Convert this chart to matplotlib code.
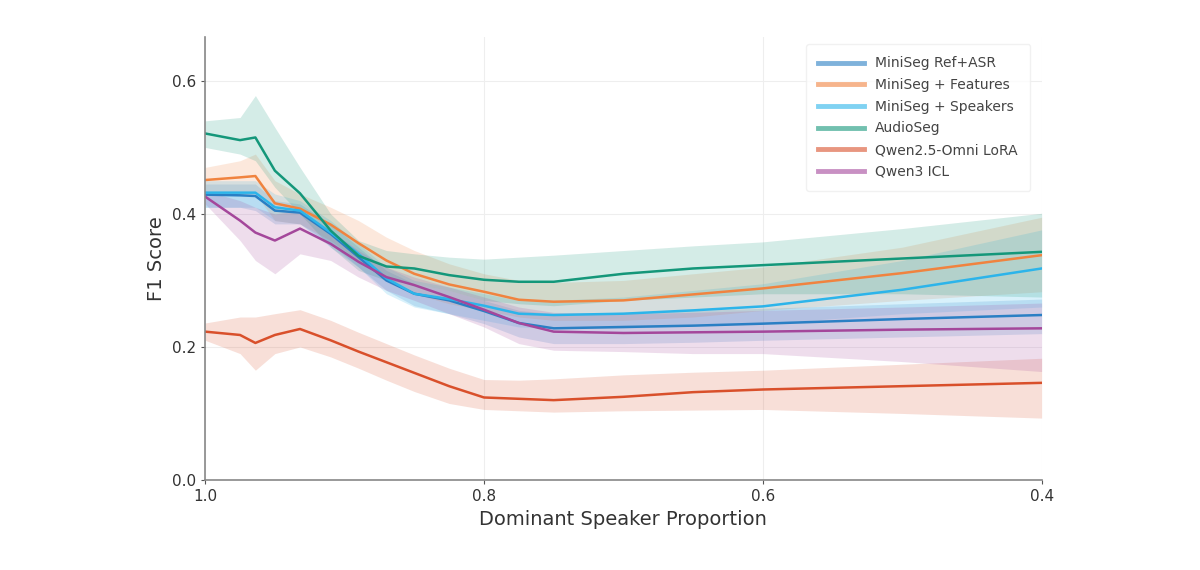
import matplotlib
matplotlib.use("Agg")
import matplotlib.pyplot as plt
import numpy as np

# dominant speaker proportion (x axis, drawn reversed)
x = [1.0, 0.975, 0.964, 0.95, 0.932, 0.91, 0.89, 0.87, 0.85, 0.825,
     0.8, 0.775, 0.75, 0.7, 0.65, 0.6, 0.5, 0.4]

labels = ["MiniSeg Ref+ASR", "MiniSeg + Features", "MiniSeg + Speakers",
          "AudioSeg", "Qwen2.5-Omni LoRA", "Qwen3 ICL"]

ref_asr = [0.429, 0.428, 0.427, 0.405, 0.402, 0.370, 0.335, 0.300, 0.280, 0.270,
           0.254, 0.236, 0.228, 0.230, 0.232, 0.235, 0.242, 0.248]
ref_asr_lo = [0.410, 0.410, 0.405, 0.385, 0.385, 0.355, 0.320, 0.285, 0.262, 0.250,
              0.235, 0.215, 0.205, 0.205, 0.207, 0.210, 0.215, 0.220]
ref_asr_hi = [0.445, 0.445, 0.445, 0.420, 0.415, 0.385, 0.350, 0.315, 0.295, 0.285,
              0.270, 0.255, 0.250, 0.252, 0.255, 0.258, 0.265, 0.272]

features = [0.451, 0.455, 0.457, 0.416, 0.408, 0.384, 0.356, 0.330, 0.310, 0.294,
            0.283, 0.271, 0.268, 0.270, 0.279, 0.288, 0.311, 0.338]
features_lo = [0.430, 0.430, 0.430, 0.390, 0.385, 0.360, 0.330, 0.300, 0.280, 0.265,
               0.255, 0.245, 0.240, 0.240, 0.245, 0.255, 0.270, 0.283]
features_hi = [0.470, 0.480, 0.490, 0.450, 0.430, 0.410, 0.390, 0.365, 0.345, 0.325,
               0.310, 0.300, 0.297, 0.300, 0.310, 0.320, 0.350, 0.395]

speakers = [0.432, 0.432, 0.432, 0.410, 0.405, 0.372, 0.340, 0.303, 0.280, 0.272,
            0.262, 0.250, 0.248, 0.250, 0.255, 0.261, 0.286, 0.318]
speakers_lo = [0.410, 0.410, 0.410, 0.390, 0.385, 0.350, 0.320, 0.280, 0.260, 0.250,
               0.240, 0.230, 0.228, 0.228, 0.232, 0.235, 0.250, 0.260]
speakers_hi = [0.450, 0.450, 0.450, 0.430, 0.420, 0.390, 0.355, 0.320, 0.300, 0.290,
               0.280, 0.270, 0.270, 0.275, 0.285, 0.295, 0.330, 0.376]

audioseg = [0.521, 0.511, 0.515, 0.465, 0.431, 0.375, 0.337, 0.321, 0.318, 0.308,
            0.301, 0.298, 0.298, 0.310, 0.318, 0.323, 0.333, 0.343]
audioseg_lo = [0.500, 0.490, 0.480, 0.440, 0.400, 0.350, 0.315, 0.300, 0.295, 0.285,
               0.270, 0.265, 0.262, 0.270, 0.275, 0.280, 0.280, 0.275]
audioseg_hi = [0.540, 0.545, 0.578, 0.530, 0.470, 0.400, 0.360, 0.345, 0.340, 0.335,
               0.332, 0.335, 0.338, 0.345, 0.352, 0.358, 0.378, 0.401]

omni = [0.223, 0.218, 0.206, 0.218, 0.227, 0.210, 0.193, 0.177, 0.161, 0.141,
        0.124, 0.122, 0.120, 0.125, 0.132, 0.136, 0.141, 0.146]
omni_lo = [0.210, 0.190, 0.165, 0.190, 0.200, 0.185, 0.168, 0.150, 0.133, 0.115,
           0.106, 0.104, 0.102, 0.104, 0.105, 0.106, 0.100, 0.093]
omni_hi = [0.236, 0.245, 0.245, 0.250, 0.256, 0.240, 0.222, 0.205, 0.188, 0.168,
           0.151, 0.150, 0.152, 0.158, 0.162, 0.165, 0.174, 0.183]

icl = [0.426, 0.390, 0.372, 0.360, 0.378, 0.355, 0.328, 0.305, 0.293, 0.275,
       0.256, 0.236, 0.223, 0.221, 0.222, 0.223, 0.226, 0.228]
icl_lo = [0.415, 0.360, 0.330, 0.310, 0.340, 0.330, 0.305, 0.285, 0.270, 0.250,
          0.230, 0.205, 0.195, 0.193, 0.190, 0.190, 0.178, 0.163]
icl_hi = [0.435, 0.420, 0.410, 0.400, 0.405, 0.375, 0.345, 0.320, 0.305, 0.290,
          0.275, 0.260, 0.252, 0.250, 0.252, 0.255, 0.260, 0.266]

colors = ["#2a7fc4", "#f0833f", "#2cb4ea", "#14977a", "#d9502b", "#a4479b"]

series = [(ref_asr, ref_asr_lo, ref_asr_hi), (features, features_lo, features_hi),
          (speakers, speakers_lo, speakers_hi), (audioseg, audioseg_lo, audioseg_hi),
          (omni, omni_lo, omni_hi), (icl, icl_lo, icl_hi)]

fig = plt.figure(figsize=(12, 5.7), dpi=100)
ax = fig.add_axes([0.171, 0.158, 0.697, 0.777])

handles = []
for (m, lo, hi), c, lab in zip(series, colors, labels):
    ax.fill_between(x, lo, hi, color=c, alpha=0.18, linewidth=0)
    ax.plot(x, m, color=c, linewidth=1.8, label=lab)
    handles.append(plt.Line2D([], [], color=c, linewidth=3.5, alpha=0.6))

ax.set_xlim(1.0, 0.4)
ax.set_ylim(0, 0.666)
ax.set_xticks([1.0, 0.8, 0.6, 0.4])
ax.set_yticks([0.0, 0.2, 0.4, 0.6])
ax.grid(True, color="#eeeeee", linewidth=0.8)
ax.set_axisbelow(True)
for s in ["top", "right"]:
    ax.spines[s].set_visible(False)
for s in ["left", "bottom"]:
    ax.spines[s].set_color("#888888")
    ax.spines[s].set_linewidth(1.2)
ax.tick_params(colors="#555555", labelsize=11, length=3)
ax.tick_params(labelcolor="#333333")
ax.set_xlabel("Dominant Speaker Proportion", fontsize=14, color="#333333")
ax.set_ylabel("F1 Score", fontsize=14, color="#333333")

leg = ax.legend(handles, labels, loc="upper right", fontsize=10, frameon=True,
                borderpad=0.9, labelspacing=0.55, handlelength=3.3,
                bbox_to_anchor=(0.995, 1.0))
leg.get_frame().set_edgecolor("#eeeeee")
for t in leg.get_texts():
    t.set_color("#444444")

fig.savefig("out.png", dpi=100)
